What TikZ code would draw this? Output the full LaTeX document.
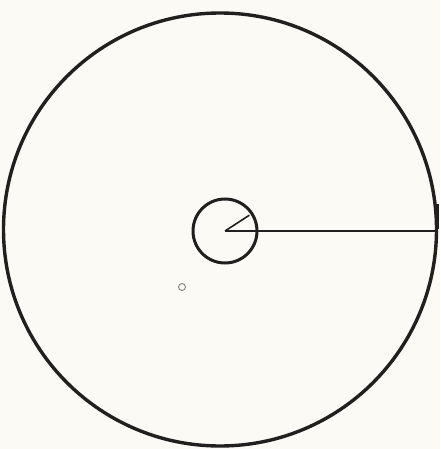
\documentclass[tikz,border=0pt]{standalone}
\definecolor{paper}{RGB}{251,250,245}
\definecolor{ink}{RGB}{34,32,30}
\begin{document}
\begin{tikzpicture}[x=1pt,y=-1pt,
  ring/.style={circle,draw=ink,inner sep=0pt,outer sep=0pt},
  radius line/.style={draw=ink,line width=2.4pt}]
\fill[paper] (0,0) rectangle (440,449);
\useasboundingbox (0,0) rectangle (440,449);
\node[ring,line width=3.4pt,minimum size=433pt] (big) at (220,229.5) {};
\node[ring,line width=3pt,minimum size=64pt] (small) at (225,231) {};
\draw[radius line] (small.center) -- (big.east |- small.center);
\draw[draw=ink,line width=1.6pt] (small.center) -- ++(-33:29);
\fill[ink] (434.5,204) rectangle (439,229);
\node[circle,draw=ink!55,line width=0.9pt,inner sep=0pt,minimum size=7pt] (mark) at (182,287) {};
\end{tikzpicture}
\end{document}
